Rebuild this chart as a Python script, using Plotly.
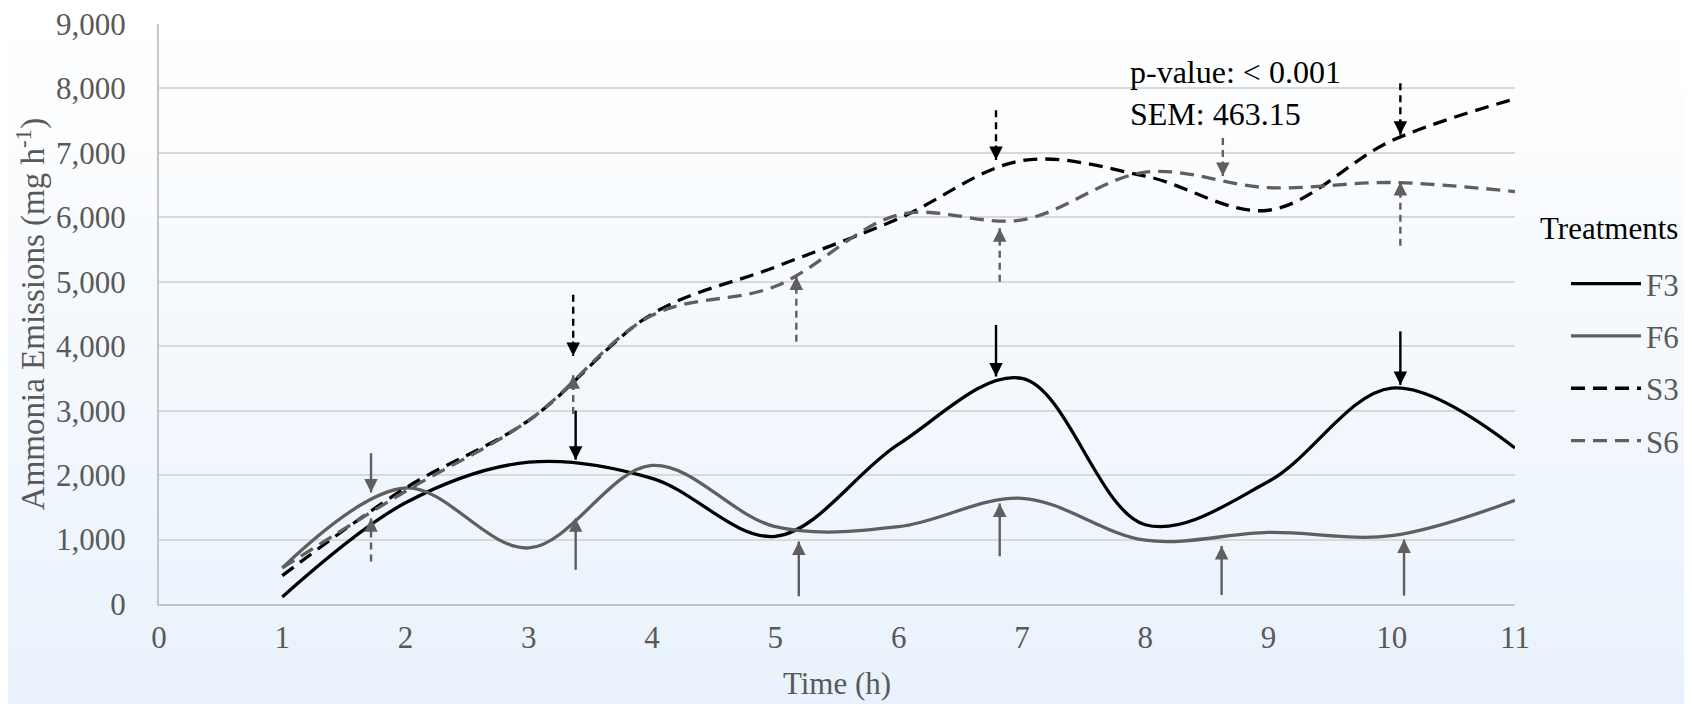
import plotly.graph_objects as go

# ---------------- data ----------------
hours = [1, 2, 3, 4, 5, 6, 7, 8, 9, 10, 11]
series_names = ["F3", "F6", "S3", "S6"]
f3 = [110, 1570, 2200, 1950, 1050, 2480, 3500, 1230, 1900, 3350, 2420]
f6 = [560, 1800, 870, 2150, 1200, 1200, 1640, 990, 1110, 1060, 1610]
s3 = [440, 1800, 2850, 4500, 5230, 5980, 6880, 6640, 6110, 7190, 7840]
s6 = [560, 1750, 2850, 4480, 4930, 6040, 5960, 6700, 6460, 6540, 6400]

# arrows marking events: x position, tail value, tip value, series style
arrow_x = [1.72, 1.72, 3.36, 3.36, 3.38, 3.38, 5.17, 5.19, 6.79, 6.82, 6.79, 6.82,
           8.63, 8.62, 10.07, 10.07, 10.07, 10.1]
arrow_tail = [2340, 660, 4800, 2950, 3000, 530, 4070, 120, 7660, 5000, 4330, 740,
              7230, 140, 8080, 5560, 4230, 130]
arrow_tip = [1730, 1330, 3850, 3550, 2240, 1330, 5080, 970, 6890, 5830, 3530, 1560,
             6640, 900, 7280, 6550, 3400, 1000]
arrow_series = ["F6", "S6", "S3", "S6", "F3", "F6", "S6", "F6", "S3", "S6", "F3", "F6",
                "S6", "F6", "S3", "S6", "F3", "F6"]

stats_text = ["p-value: < 0.001", "SEM: 463.15"]

# ---------------- styles ----------------
FONT = "Liberation Serif, Times New Roman, serif"
FS = 31
BLACK = "#000000"
GRAY = "#5f5f5f"
TXT_GRAY = "#595959"
styles = {
    "F3": dict(color=BLACK, dash="solid"),
    "F6": dict(color=GRAY, dash="solid"),
    "S3": dict(color=BLACK, dash="14px,8px"),
    "S6": dict(color=GRAY, dash="14px,8px"),
}
values = {"F3": f3, "F6": f6, "S3": s3, "S6": s6}

# page has an 8px body margin; figure is sized so it ends at the window edge
W, H = 1684, 696
ML, MR, MT, MB = 151, 177, 16, 100
PW, PH = W - ML - MR, H - MT - MB

fig = go.Figure()

for name in series_names:
    st = styles[name]
    fig.add_trace(go.Scatter(
        x=hours, y=values[name], name=name, mode="lines",
        line=dict(color=st["color"], width=3.3, dash=st["dash"], shape="spline", smoothing=1.0),
        legendgroup=name, hoverinfo="x+y+name",
    ))

shapes = []
# background gradient (white -> light blue), whole canvas
nb = 90
y_lo = -MB / PH
y_hi = 1 + MT / PH
top_c = (255, 255, 255)
bot_c = (233, 242, 252)
for i in range(nb):
    t = i / (nb - 1)
    c = tuple(round(top_c[k] + (bot_c[k] - top_c[k]) * t) for k in range(3))
    y1 = y_hi - (y_hi - y_lo) * i / nb
    y0 = y_hi - (y_hi - y_lo) * (i + 1) / nb - 0.002
    shapes.append(dict(type="rect", xref="paper", yref="paper", x0=-0.2, x1=1.25,
                       y0=y0, y1=y1, fillcolor="rgb(%d,%d,%d)" % c,
                       line=dict(width=0), layer="below"))

annotations = []
for xa, tail, tip, sname in zip(arrow_x, arrow_tail, arrow_tip, arrow_series):
    st = styles[sname]
    dash = "solid" if st["dash"] == "solid" else "7px,5px"
    shapes.append(dict(type="line", xref="x", yref="y", x0=xa, x1=xa, y0=tail, y1=tip,
                       line=dict(color=st["color"], width=2.4, dash=dash), layer="above"))
    up = tip > tail
    annotations.append(dict(x=xa, y=tip, xref="x", yref="y", text="", showarrow=True,
                            ax=0, ay=16 if up else -16, arrowhead=2, arrowsize=1.35,
                            arrowwidth=2, arrowcolor=st["color"], standoff=0))

annotations.append(dict(x=7.86, y=7930, xref="x", yref="y", xanchor="left", yanchor="middle",
                        align="left", text="<br>".join(stats_text), showarrow=False,
                        font=dict(family=FONT, size=32, color=BLACK)))
annotations.append(dict(x=(1530 - ML) / PW, y=(H - MB - 220) / PH, xref="paper", yref="paper",
                        xanchor="left", yanchor="middle", text="Treatments", showarrow=False,
                        font=dict(family=FONT, size=FS, color=BLACK)))

fig.update_layout(
    width=W, height=H,
    margin=dict(l=ML, r=MR, t=MT, b=MB, autoexpand=False),
    paper_bgcolor="white", plot_bgcolor="rgba(0,0,0,0)",
    font=dict(family=FONT, size=FS, color=TXT_GRAY),
    shapes=shapes, annotations=annotations,
    showlegend=True,
    legend=dict(x=(1558 - ML) / PW, y=(H - MB - 249) / PH, xanchor="left", yanchor="top",
                bgcolor="rgba(0,0,0,0)", font=dict(family=FONT, size=FS, color=TXT_GRAY),
                itemwidth=70, tracegroupgap=9),
    xaxis=dict(range=[0, 11], dtick=1, tick0=0, showgrid=False, zeroline=False,
               showline=True, linecolor="#c6c6c6", linewidth=2, ticks="",
               ticklabelstandoff=5, automargin=False, ticklabeloverflow="allow",
               title=dict(text="Time (h)", standoff=18,
                          font=dict(family=FONT, size=FS, color=TXT_GRAY))),
    yaxis=dict(range=[0, 9000], dtick=1000, tick0=0, tickformat=",", showgrid=True,
               gridcolor="#d9d9d9", gridwidth=1.5, zeroline=False,
               showline=True, linecolor="#c6c6c6", linewidth=2, ticks="",
               ticklabelstandoff=25, automargin=False, ticklabeloverflow="allow",
               title=dict(text="Ammonia Emissions (mg h<sup>-1</sup>)", standoff=1,
                          font=dict(family=FONT, size=33, color=TXT_GRAY))),
)

fig.write_html("out.html")
